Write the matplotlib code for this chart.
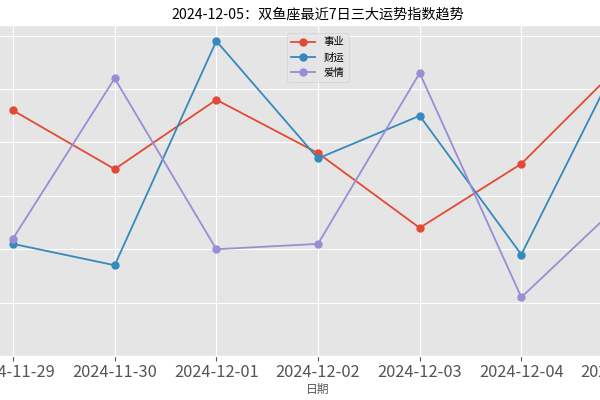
import matplotlib
matplotlib.use("Agg")
import matplotlib.pyplot as plt

plt.style.use("ggplot")
plt.rcParams['font.family'] = ['Noto Sans CJK SC', 'DejaVu Sans']
plt.rcParams['axes.unicode_minus'] = False

dates = ["2024-11-29", "2024-11-30", "2024-12-01", "2024-12-02",
         "2024-12-03", "2024-12-04", "2024-12-05"]
career = [76, 65, 78, 68, 54, 66, 85]
wealth = [51, 47, 89, 67, 75, 49, 87]
love = [52, 82, 50, 51, 83, 41, 59]
series_names = ["事业", "财运", "爱情"]
title = "2024-12-05：双鱼座最近7日三大运势指数趋势"

fig = plt.figure(figsize=(6, 4), dpi=100)
ax = fig.add_axes([-17.5 / 600, 44 / 400, 671 / 600, 331 / 400])

x = list(range(len(dates)))
for vals, name in zip([career, wealth, love], series_names):
    ax.plot(x, vals, marker='o', markersize=5, linewidth=1.3, label=name)

ax.set_xticks(x)
ax.set_xticklabels(dates, fontsize=11.8, color="#555555")
ax.tick_params(axis='x', pad=2)
ax.set_xlim(-0.3, 6.3)
ax.set_ylim(30, 92)
ax.set_yticks([40, 50, 60, 70, 80, 90])
ax.tick_params(axis='y', labelleft=False, left=False)
ax.set_xlabel("日期", fontsize=8.5, color="#555555")
ax.xaxis.set_label_coords(0.5, -0.08)

ax.set_title(title, fontsize=10.2, pad=5)
ax.legend(loc='upper center', bbox_to_anchor=(0.5, 1 - 3 / 331),
          fontsize=7.5, handlelength=2.3)

fig.savefig("out.png", dpi=100)
